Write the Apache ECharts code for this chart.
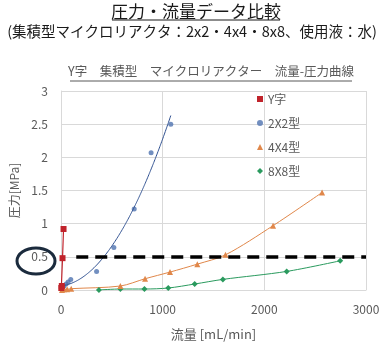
<!DOCTYPE html>
<html>
<head>
<meta charset="utf-8">
<script src="https://cdn.jsdelivr.net/npm/echarts@6/dist/echarts.min.js"></script>
<style>
  html, body { margin: 0; padding: 0; background: #fff; }
  #chart { width: 385px; height: 346px; }
</style>
</head>
<body>
<div id="chart"></div>
<script>
// Flow [mL/min] vs pressure [MPa] for each reactor type
const yJiData   = [[3, 0.03], [8, 0.06], [15, 0.48], [25, 0.92]];
const type2x2   = [[15, 0.03], [30, 0.06], [50, 0.09], [70, 0.12], [96, 0.16],
                   [350, 0.28], [520, 0.64], [720, 1.22], [886, 2.07], [1080, 2.5]];
const type4x4   = [[10, 0.0], [30, 0.01], [60, 0.01], [100, 0.02], [584, 0.06],
                   [827, 0.17], [1072, 0.27], [1341, 0.39], [1618, 0.53],
                   [2086, 0.97], [2568, 1.47]];
const type8x8   = [[373, 0.0], [584, 0.015], [821, 0.015], [1055, 0.03], [1315, 0.09],
                   [1592, 0.16], [2220, 0.28], [2746, 0.44]];
const seriesNames = ['Y字', '2X2型', '4X4型', '8X8型'];
const xTicks = [0, 3000, 1000];
const yTicks = [0, 3, 0.5];
const limitPressure = 0.5;
const limitRange = [150, 3000];

// Least-squares quadratic trendline for the 2X2 points
function quadFit(pts) {
  let s = [0, 0, 0, 0, 0], t = [0, 0, 0];
  pts.forEach(([x, y]) => {
    let p = 1;
    for (let k = 0; k < 5; k++) { s[k] += p; if (k < 3) t[k] += p * y; p *= x; }
  });
  const A = [[s[0], s[1], s[2], t[0]], [s[1], s[2], s[3], t[1]], [s[2], s[3], s[4], t[2]]];
  for (let i = 0; i < 3; i++) {
    for (let j = i + 1; j < 3; j++) {
      const f = A[j][i] / A[i][i];
      for (let k = i; k < 4; k++) A[j][k] -= f * A[i][k];
    }
  }
  const c = [0, 0, 0];
  for (let i = 2; i >= 0; i--) {
    let v = A[i][3];
    for (let k = i + 1; k < 3; k++) v -= A[i][k] * c[k];
    c[i] = v / A[i][i];
  }
  return c;
}
const coef = quadFit(type2x2);
const xMaxFit = Math.max(...type2x2.map(p => p[0]));
const trend2x2 = [];
for (let i = 0; i <= 60; i++) {
  const x = xMaxFit * i / 60;
  trend2x2.push([x, coef[0] + coef[1] * x + coef[2] * x * x]);
}

const FONT = '"Noto Sans CJK JP", "Noto Sans", sans-serif';
const GREY = '#595959';
const colors = { red: '#c0232b', blue: '#4f73b0', blueLine: '#2f5090', orange: '#e0874a', green: '#2a9a5e' };

const chart = echarts.init(document.getElementById('chart'), null, { renderer: 'canvas' });
chart.setOption({
  animation: false,
  textStyle: { fontFamily: FONT },
  grid: { left: 58, top: 91, width: 308, height: 203, containLabel: false },
  legend: {
    orient: 'vertical',
    left: 252, top: 88,
    itemWidth: 6, itemHeight: 6, itemGap: 12,
    textStyle: { fontFamily: FONT, fontSize: 12, color: GREY },
    data: [
      { name: seriesNames[0], icon: 'rect', itemStyle: { color: colors.red } },
      { name: seriesNames[1], icon: 'circle', itemStyle: { color: colors.blue } },
      { name: seriesNames[2], icon: 'triangle', itemStyle: { color: colors.orange } },
      { name: seriesNames[3], icon: 'diamond', itemStyle: { color: colors.green } }
    ]
  },
  xAxis: {
    type: 'value', min: xTicks[0], max: xTicks[1], interval: xTicks[2],
    name: '流量 [mL/min]', nameLocation: 'middle', nameGap: 38,
    nameTextStyle: { fontFamily: FONT, fontSize: 13, color: GREY },
    axisLine: { show: true, lineStyle: { color: '#d9d9d9' } },
    axisTick: { show: false },
    axisLabel: { margin: 13, fontFamily: FONT, fontSize: 12, color: GREY, formatter: v => String(v) },
    splitLine: { show: true, lineStyle: { color: '#d9d9d9' } }
  },
  yAxis: {
    type: 'value', min: yTicks[0], max: yTicks[1], interval: yTicks[2],
    name: '圧力[MPa]', nameLocation: 'middle', nameGap: 41, nameRotate: 90,
    nameTextStyle: { fontFamily: FONT, fontSize: 12, color: GREY },
    axisLine: { show: true, lineStyle: { color: '#d9d9d9' } },
    axisTick: { show: false },
    axisLabel: { margin: 13, fontFamily: FONT, fontSize: 12, color: GREY },
    splitLine: { show: true, lineStyle: { color: '#d9d9d9' } }
  },
  series: [
    {
      name: seriesNames[3], type: 'line', data: type8x8, smooth: 0.3,
      symbol: 'diamond', symbolSize: 6,
      itemStyle: { color: colors.green }, lineStyle: { color: colors.green, width: 1 },
      markLine: {
        silent: true, symbol: 'none', label: { show: false },
        lineStyle: { color: '#000', width: 3.5, type: [12, 7] },
        data: [[{ coord: [limitRange[0], limitPressure] }, { coord: [limitRange[1], limitPressure] }]]
      }
    },
    {
      name: seriesNames[2], type: 'line', data: type4x4, smooth: 0.3,
      symbol: 'triangle', symbolSize: 6,
      itemStyle: { color: colors.orange }, lineStyle: { color: colors.orange, width: 1 }
    },
    {
      name: seriesNames[1], type: 'scatter', data: type2x2,
      symbol: 'circle', symbolSize: 5, itemStyle: { color: colors.blue }
    },
    {
      name: 'trend2x2', type: 'line', data: trend2x2, smooth: true, showSymbol: false,
      lineStyle: { color: colors.blueLine, width: 1 }, silent: true
    },
    {
      name: seriesNames[0], type: 'line', data: yJiData,
      symbol: 'rect', symbolSize: 6,
      itemStyle: { color: colors.red }, lineStyle: { color: colors.red, width: 1.2 }
    }
  ],
  graphic: [
    { type: 'text', x: 196, y: 3,
      style: { text: '圧力・流量データ比較', font: '17px ' + FONT, fill: '#1a1a1a', align: 'center' } },
    { type: 'line', shape: { x1: 112, y1: 20, x2: 280, y2: 20 }, style: { stroke: '#1a1a1a', lineWidth: 1 } },
    { type: 'text', x: 192, y: 24,
      style: { text: '(集積型マイクロリアクタ：2x2・4x4・8x8、使用液：水)', font: '14.5px ' + FONT, fill: '#1a1a1a', align: 'center' } },
    { type: 'text', x: 211, y: 65,
      style: { text: 'Y字　集積型　マイクロリアクター　流量-圧力曲線', font: '12.5px ' + FONT, fill: GREY, align: 'center' } },
    { type: 'line', shape: { x1: 70, y1: 81, x2: 352, y2: 81 }, style: { stroke: GREY, lineWidth: 1 } },
    { type: 'ellipse', shape: { cx: 36, cy: 261, rx: 19, ry: 13 },
      style: { fill: 'none', stroke: '#1b2b3d', lineWidth: 3 } }
  ]
});
</script>
</body>
</html>
